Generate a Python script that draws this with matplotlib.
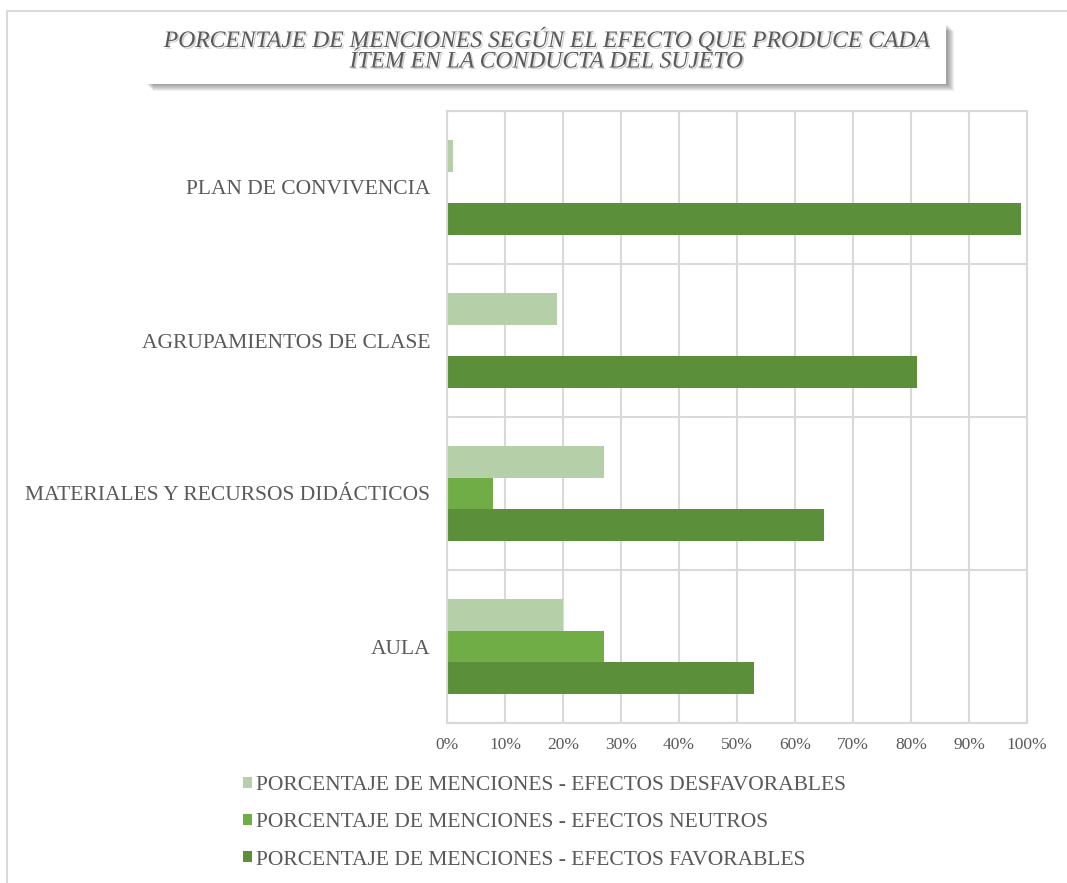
import matplotlib
matplotlib.use("Agg")
import matplotlib.pyplot as plt
import matplotlib.patheffects as pe
from matplotlib.patches import Rectangle
import numpy as np

categories = ["AULA", "MATERIALES Y RECURSOS DIDÁCTICOS", "AGRUPAMIENTOS DE CLASE", "PLAN DE CONVIVENCIA"]
desfavorables = [20, 27, 19, 1]
neutros = [27, 8, 0, 0]
favorables = [53, 65, 81, 99]
series_labels = ["PORCENTAJE DE MENCIONES - EFECTOS DESFAVORABLES",
                 "PORCENTAJE DE MENCIONES - EFECTOS NEUTROS",
                 "PORCENTAJE DE MENCIONES - EFECTOS FAVORABLES"]
xticks = list(range(0, 101, 10))
title_lines = ["PORCENTAJE DE MENCIONES SEGÚN EL EFECTO QUE PRODUCE CADA",
               "ÍTEM EN LA CONDUCTA DEL SUJETO"]

W, H = 1067, 883
TXT = "#595959"
GRID = "#D9D9D9"
C_DES = "#B5CFA8"
C_NEU = "#70AD47"
C_FAV = "#5B8F3A"

plt.rcParams['font.family'] = ['Liberation Serif', 'DejaVu Serif']

fig = plt.figure(figsize=(W / 100, H / 100), dpi=100)
fig.patch.set_facecolor("white")

# outer chart border (partially cropped)
fig.add_artist(Rectangle((7 / W, -0.1), 1.2, 1 - 11 / H + 0.1, transform=fig.transFigure,
                         fill=False, edgecolor=GRID, linewidth=1.5))

# title box with soft shadow
bx0, bx1, by0, by1 = 145, 946, 24, 84
for i in range(7):
    off = 1 + i
    fig.add_artist(Rectangle(((bx0 + off + 1) / W, 1 - (by1 + off) / H), (bx1 - bx0) / W, (by1 - by0) / H,
                             transform=fig.transFigure, facecolor="black", edgecolor="none", alpha=0.06))
fig.add_artist(Rectangle((bx0 / W, 1 - by1 / H), (bx1 - bx0) / W, (by1 - by0) / H,
                         transform=fig.transFigure, facecolor="white", edgecolor="none"))
shadow = [pe.SimplePatchShadow(offset=(1.2, -1.2), shadow_rgbFace="#9a9a9a", alpha=0.45), pe.Normal()]
fig.text(546 / W, 1 - 40 / H, title_lines[0], ha="center", va="center", fontsize=17,
         style="italic", color=TXT, path_effects=shadow)
fig.text(546 / W, 1 - 62 / H, title_lines[1], ha="center", va="center", fontsize=17,
         style="italic", color=TXT, path_effects=shadow)

ax = fig.add_axes([447 / W, 1 - 723 / H, 580 / W, 612 / H])
y = np.arange(len(categories))
h = 0.205
b1 = ax.barh(y + h, desfavorables, h, color=C_DES, label=series_labels[0])
b2 = ax.barh(y, neutros, h, color=C_NEU, label=series_labels[1])
b3 = ax.barh(y - h, favorables, h, color=C_FAV, label=series_labels[2])

ax.set_xlim(0, 100)
ax.set_ylim(-0.5, len(categories) - 0.5)
ax.set_xticks(xticks)
ax.set_xticklabels([f"{v}%" for v in xticks])
ax.set_yticks(y)
ax.set_yticklabels(categories)
ax.set_yticks(np.arange(-0.5, len(categories)), minor=True)
ax.tick_params(axis="x", length=0, pad=10, labelsize=12.5, labelcolor=TXT)
ax.tick_params(axis="y", which="both", length=0, pad=12, labelsize=15.5, labelcolor=TXT)
ax.set_axisbelow(True)
ax.grid(axis="x", which="major", color=GRID, linewidth=1.5)
ax.grid(axis="y", which="minor", color=GRID, linewidth=1.5)
for s in ax.spines.values():
    s.set_color(GRID)
    s.set_linewidth(1.5)

leg = ax.legend(handles=[b1, b2, b3], loc="upper left", bbox_to_anchor=(243 / W, 1 - 776 / H),
                bbox_transform=fig.transFigure, frameon=False, fontsize=15.5, labelcolor=TXT,
                handlelength=0.4, handleheight=0.4, handletextpad=0.2, labelspacing=0.85,
                borderpad=0, borderaxespad=0)

fig.savefig("out.png", dpi=100, facecolor="white")
